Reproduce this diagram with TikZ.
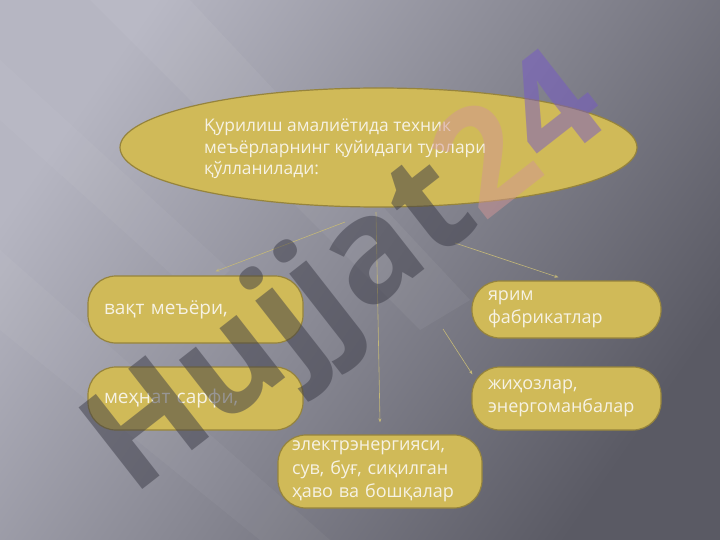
\documentclass[tikz,border=0pt]{standalone}
\usepackage{fontspec}
\setmainfont{Open Sans}
\usetikzlibrary{shapes.geometric,arrows.meta}

\definecolor{bgLight}{RGB}{182,182,194}
\definecolor{bgDark}{RGB}{90,90,100}
\definecolor{boxFill}{RGB}{208,186,88}
\definecolor{boxLine}{RGB}{150,132,60}
\definecolor{boxText}{RGB}{246,242,228}
\definecolor{connLine}{RGB}{196,184,120}
\definecolor{wmDark}{RGB}{58,58,70}
\definecolor{wmPink}{RGB}{210,150,150}
\definecolor{wmPurple}{RGB}{118,88,200}

\begin{document}
\begin{tikzpicture}[x=1pt, y=-1pt, every node/.style={font=\fontsize{18}{23.5}\selectfont, text=boxText}]

	% Background of the slide
	\shade[top color=bgLight, bottom color=bgDark, shading angle=55] (0,0) rectangle (720,540);
	\fill[white, opacity=0.05] (90,0) -- (190,0) -- (470,300) -- (420,330) -- cycle;
	\fill[white, opacity=0.04] (0,250) -- (0,330) -- (260,540) -- (330,540) -- cycle;
	\fill[white, opacity=0.04] (0,60) -- (0,120) -- (200,300) -- (230,270) -- cycle;
	\useasboundingbox (0,0) rectangle (720,540);

	% Define styles for the boxes and the thin connectors
	\tikzset{
		normbox/.style={draw=boxLine, fill=boxFill, line width=1.2pt, rounded corners=28pt,
			align=left, inner xsep=16pt, inner ysep=0pt},
		conn/.style={draw=connLine, line width=0.6pt, -{Stealth[length=4pt, width=3pt]}}
	};

	% Top ellipse with its heading
	\node[ellipse, draw=boxLine, fill=boxFill, line width=1.2pt,
		minimum width=517pt, minimum height=119pt] (head) at (378.5,147.5) {};
	\node[anchor=west, align=left, inner sep=0pt, font=\fontsize{17.4}{21.5}\selectfont] (headtext) at (204,149)
		{Қурилиш амалиётида техник\\меъёрларнинг қуйидаги турлари\\қўлланилади:};

	% Left column
	\node[normbox, minimum height=67pt, text width=183pt, font=\fontsize{19}{23.5}\selectfont] (vaqt) at (195.5,309.5) {вақт меъёри,};
	\node[normbox, minimum height=63pt, text width=183pt, font=\fontsize{19}{23.5}\selectfont] (mehnat) at (195.5,398.5) {меҳнат сарфи,};

	% Right column
	\node[normbox, minimum height=57pt, text width=157pt] (yarim) at (566.5,309.5) {ярим\\фабрикатлар};
	\node[normbox, minimum height=63pt, text width=157pt] (jihoz) at (566.5,398.5) {жиҳозлар,\\энергоманбалар};

	% Bottom box
	\node[normbox, minimum height=73pt, text width=176pt, inner xsep=14pt] (elektr) at (380,471.5)
		{электрэнергияси,\\сув, буғ, сиқилган\\ҳаво ва бошқалар};

	% Connectors (they start a little below the ellipse)
	\coordinate (s1) at (345,222);
	\coordinate (s2) at (455,243);
	\coordinate (s3) at (376,212);
	\coordinate (s4) at (443,329);
	\draw[conn] (s1) -- ([xshift=20pt, yshift=4pt]vaqt.north);
	\draw[conn] (s2) -- ([xshift=-8pt, yshift=3pt]yarim.north);
	\draw[conn] (s3) -- ([yshift=12pt]elektr.north);
	\draw[conn] (s4) -- ([xshift=1pt, yshift=-8pt]jihoz.north west);

	% Watermark across the slide
	\node[rotate=38, opacity=0.5, text=wmDark, font=\fontsize{145}{145}\bfseries\selectfont] (wm) at (350,280)
		{Hujjat\textcolor{wmPink}{2}\textcolor{wmPurple}{4}};
\end{tikzpicture}
\end{document}
